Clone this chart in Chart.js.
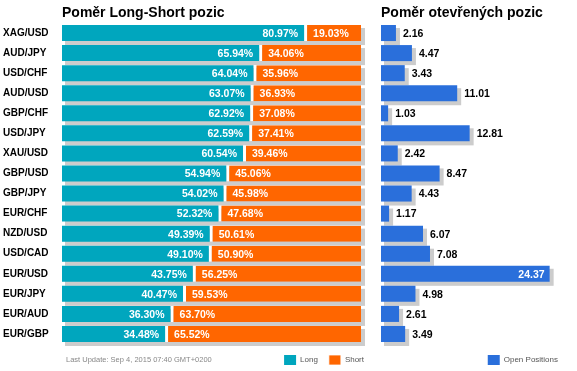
<!DOCTYPE html>
<html>
<head>
<meta charset="utf-8">
<script src="https://cdn.jsdelivr.net/npm/chart.js@4.4.0/dist/chart.umd.min.js"></script>
<style>
  html, body { margin: 0; padding: 0; background: #fff; overflow: hidden; width: 577px; height: 371px; }
  #ratio { position: absolute; left: 0; top: 0; }
  #open { position: absolute; left: 370px; top: 0; }
</style>
</head>
<body>
<canvas id="ratio" width="375" height="375"></canvas>
<canvas id="open" width="199" height="375"></canvas>
<script>
const pairs = ['XAG/USD', 'AUD/JPY', 'USD/CHF', 'AUD/USD', 'GBP/CHF', 'USD/JPY', 'XAU/USD', 'GBP/USD',
  'GBP/JPY', 'EUR/CHF', 'NZD/USD', 'USD/CAD', 'EUR/USD', 'EUR/JPY', 'EUR/AUD', 'EUR/GBP'];
const longPct = [80.97, 65.94, 64.04, 63.07, 62.92, 62.59, 60.54, 54.94, 54.02, 52.32, 49.39, 49.10, 43.75, 40.47, 36.30, 34.48];
const shortPct = [19.03, 34.06, 35.96, 36.93, 37.08, 37.41, 39.46, 45.06, 45.98, 47.68, 50.61, 50.90, 56.25, 59.53, 63.70, 65.52];
const openPos = [2.16, 4.47, 3.43, 11.01, 1.03, 12.81, 2.42, 8.47, 4.43, 1.17, 6.07, 7.08, 24.37, 4.98, 2.61, 3.49];
const lastUpdate = 'Last Update: Sep 4, 2015 07:40 GMT+0200';

const TEAL = '#00a6be';
const ORANGE = '#ff6600';
const BLUE = '#2a6fdb';
const SHADOW = '#cccccc';
const FONT = 'Arial, "Liberation Sans", sans-serif';

// gray drop shadow under each row (whole bar, all stacked pieces)
const shadowPlugin = {
  id: 'shadow',
  beforeDatasetsDraw(chart) {
    const ctx = chart.ctx;
    const n = chart.data.labels.length;
    ctx.save();
    ctx.fillStyle = SHADOW;
    for (let i = 0; i < n; i++) {
      let left = Infinity, right = -Infinity, top = 0, h = 0;
      chart.data.datasets.forEach((ds, di) => {
        const el = chart.getDatasetMeta(di).data[i];
        left = Math.min(left, el.base, el.x);
        right = Math.max(right, el.base, el.x);
        top = el.y - el.height / 2;
        h = el.height;
      });
      ctx.fillRect(left + 3, top + 3, right - left + 1, h + 1);
    }
    ctx.restore();
  }
};

const pctLabels = {
  id: 'pctLabels',
  afterDatasetsDraw(chart) {
    const ctx = chart.ctx;
    ctx.save();
    ctx.font = 'bold 10.5px ' + FONT;
    ctx.fillStyle = '#fff';
    ctx.textBaseline = 'middle';
    chart.getDatasetMeta(0).data.forEach((el, i) => {
      ctx.textAlign = 'right';
      ctx.fillText(longPct[i].toFixed(2) + '%', el.x - 6, el.y + 1);
    });
    chart.getDatasetMeta(1).data.forEach((el, i) => {
      ctx.textAlign = 'left';
      ctx.fillText(shortPct[i].toFixed(2) + '%', el.base + 9, el.y + 1);
    });
    ctx.fillStyle = '#888';
    ctx.font = '7.5px ' + FONT;
    ctx.textAlign = 'left';
    ctx.fillText(lastUpdate, 66, 360);
    ctx.restore();
  }
};

const openLabels = {
  id: 'openLabels',
  afterDatasetsDraw(chart) {
    const ctx = chart.ctx;
    ctx.save();
    ctx.font = 'bold 10.5px ' + FONT;
    ctx.textBaseline = 'middle';
    chart.getDatasetMeta(0).data.forEach((el, i) => {
      const txt = openPos[i].toFixed(2);
      const w = ctx.measureText(txt).width;
      if (el.x + 7 + w > chart.chartArea.right) {
        ctx.fillStyle = '#fff';
        ctx.textAlign = 'right';
        ctx.fillText(txt, el.x - 5, el.y + 1);
      } else {
        ctx.fillStyle = '#000';
        ctx.textAlign = 'left';
        ctx.fillText(txt, el.x + 7, el.y + 1);
      }
    });
    ctx.restore();
  }
};

const titleOpts = (text, fullSize) => ({
  display: true,
  text: text,
  align: 'start',
  fullSize: fullSize,
  color: '#000',
  font: { family: FONT, size: 14, weight: 'bold' },
  padding: { top: 4.5, bottom: 1.7 }
});

const legendOpts = {
  position: 'bottom',
  align: 'end',
  labels: {
    boxWidth: 12,
    boxHeight: 10,
    padding: 11,
    color: '#555',
    font: { family: FONT, size: 8 }
  }
};

// empty right-hand axis, only keeps a fixed gap between plot and canvas edge
const spacerAxis = (w) => ({
  position: 'right',
  grid: { display: false },
  border: { display: false },
  ticks: { display: false },
  afterFit: (s) => { s.width = w; }
});

new Chart(document.getElementById('ratio'), {
  type: 'bar',
  data: {
    labels: pairs,
    datasets: [
      { label: 'Long', data: longPct, backgroundColor: TEAL, borderWidth: 0,
        categoryPercentage: 0.8, barPercentage: 1 },
      { label: 'Short', data: shortPct, backgroundColor: ORANGE, borderColor: '#fff',
        borderWidth: { left: 3, right: 0, top: 0, bottom: 0 }, borderSkipped: false,
        categoryPercentage: 0.8, barPercentage: 1 }
    ]
  },
  options: {
    indexAxis: 'y',
    responsive: false,
    animation: false,
    devicePixelRatio: 1,
    layout: { padding: { left: 3, right: 0, top: 0, bottom: 0 } },
    scales: {
      x: { stacked: true, min: 0, max: 100, display: false },
      y: {
        stacked: true,
        grid: { display: false },
        border: { display: false },
        afterFit: (s) => { s.width = 59; },
        ticks: {
          crossAlign: 'far',
          color: '#000',
          padding: 0,
          font: { family: FONT, size: 10, weight: 'bold' }
        }
      },
      yr: spacerAxis(14)
    },
    plugins: {
      title: titleOpts('Poměr Long-Short pozic', false),
      legend: legendOpts,
      tooltip: { enabled: false }
    }
  },
  plugins: [shadowPlugin, pctLabels]
});

new Chart(document.getElementById('open'), {
  type: 'bar',
  data: {
    labels: pairs,
    datasets: [
      { label: 'Open Positions', data: openPos, backgroundColor: BLUE, borderWidth: 0,
        categoryPercentage: 0.8, barPercentage: 1 }
    ]
  },
  options: {
    indexAxis: 'y',
    responsive: false,
    animation: false,
    devicePixelRatio: 1,
    layout: { padding: { left: 11, right: 0, top: 0, bottom: 0 } },
    scales: {
      x: { min: 0, max: 25, display: false },
      y: { display: false },
      yr: spacerAxis(15)
    },
    plugins: {
      title: titleOpts('Poměr otevřených pozic', true),
      legend: legendOpts,
      tooltip: { enabled: false }
    }
  },
  plugins: [shadowPlugin, openLabels]
});
</script>
</body>
</html>
